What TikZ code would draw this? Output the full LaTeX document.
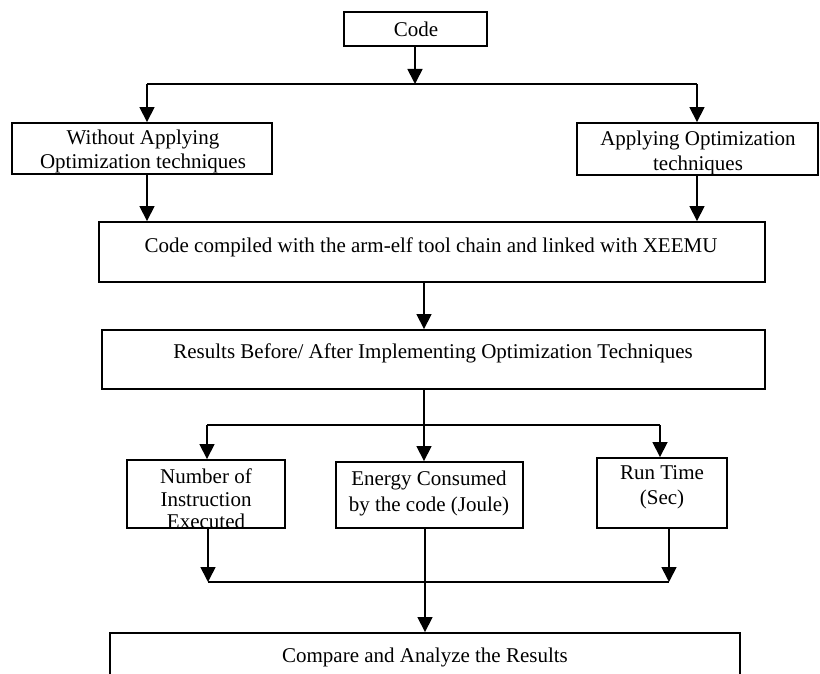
\documentclass[tikz,border=0pt]{standalone}
\usepackage{fontspec}
\setmainfont{Liberation Serif}
\usetikzlibrary{arrows.meta}
\begin{document}
\begin{tikzpicture}[x=1pt,y=-1pt,
  box/.style={draw,line width=1.9pt,inner sep=0pt},
  txt/.style={inner sep=0pt,align=center,font=\fontsize{21}{24}\selectfont},
  con/.style={line width=1.7pt},
  arr/.style={line width=1.7pt,-{Triangle[width=15pt,length=15pt]}}]
\useasboundingbox (0,0) rectangle (820,674);
% texts
\node[txt] (tcode) at (416,29) {Code};
\node[txt] (two) at (143,151) {Without Applying\\Optimization techniques};
\node[txt,font=\fontsize{21}{25}\selectfont] (tap) at (698,152.5) {Applying Optimization\\techniques};
\node[txt] (tcomp) at (431,247) {Code compiled with the arm-elf tool chain and linked with XEEMU};
\node[txt] (tres) at (433,353) {Results Before/ After Implementing Optimization Techniques};
\node[txt,font=\fontsize{21}{22.5}\selectfont] (tnum) at (206,499) {Number of\\Instruction\\Executed};
\node[txt,font=\fontsize{21}{26}\selectfont] (ten) at (429,493) {Energy Consumed\\by the code (Joule)};
\node[txt,font=\fontsize{21}{25}\selectfont] (trun) at (662,487.5) {Run Time\\(Sec)};
\node[txt] (tcmp) at (425,657) {Compare and Analyze the Results};
% boxes
\node[box,minimum width=143pt,minimum height=34pt] (code) at (415.5,29) {};
\node[box,minimum width=260pt,minimum height=51pt] (wo) at (142,148.5) {};
\node[box,minimum width=241pt,minimum height=52pt] (ap) at (697.5,149) {};
\node[box,minimum width=666pt,minimum height=60pt] (comp) at (432,252) {};
\node[box,minimum width=663pt,minimum height=59pt] (res) at (433.5,359.5) {};
\node[box,minimum width=158pt,minimum height=68pt] (num) at (206,494) {};
\node[box,minimum width=187pt,minimum height=66pt] (en) at (429.5,495) {};
\node[box,minimum width=130pt,minimum height=70pt] (run) at (662,493) {};
\node[box,minimum width=630pt,minimum height=80pt] (cmp) at (425,673) {};
% junction points
\coordinate (j1) at (415,84);
\coordinate (j1a) at (147,84);
\coordinate (j1b) at (697,84);
\coordinate (c2) at (424,300);
\coordinate (j2) at (424,425);
\coordinate (j2a) at (207,425);
\coordinate (j2b) at (660,425);
\coordinate (j3a) at (208,582);
\coordinate (j3b) at (669,582);
\coordinate (j3c) at (425,582);
% connectors
\draw[arr] (j1 |- code.south) -- (j1);
\draw[con] (j1a) -- (j1b);
\draw[arr] (j1a) -- (j1a |- wo.north);
\draw[arr] (j1b) -- (j1b |- ap.north);
\draw[arr] (j1a |- wo.south) -- (j1a |- comp.north);
\draw[arr] (j1b |- ap.south) -- (j1b |- comp.north);
\draw[arr] (c2 |- comp.south) -- (c2 |- res.north);
\draw[con] (c2 |- res.south) -- (j2);
\draw[con] (j2a) -- (j2b);
\draw[arr] (j2) -- (j2 |- en.north);
\draw[arr] (j2a) -- (j2a |- num.north);
\draw[arr] (j2b) -- (j2b |- run.north);
\draw[arr] (j3a |- num.south) -- (j3a);
\draw[arr] (j3b |- run.south) -- (j3b);
\draw[con] (j3a) -- (j3b);
\draw[arr] (j3c |- en.south) -- (j3c |- cmp.north);
\end{tikzpicture}
\end{document}
